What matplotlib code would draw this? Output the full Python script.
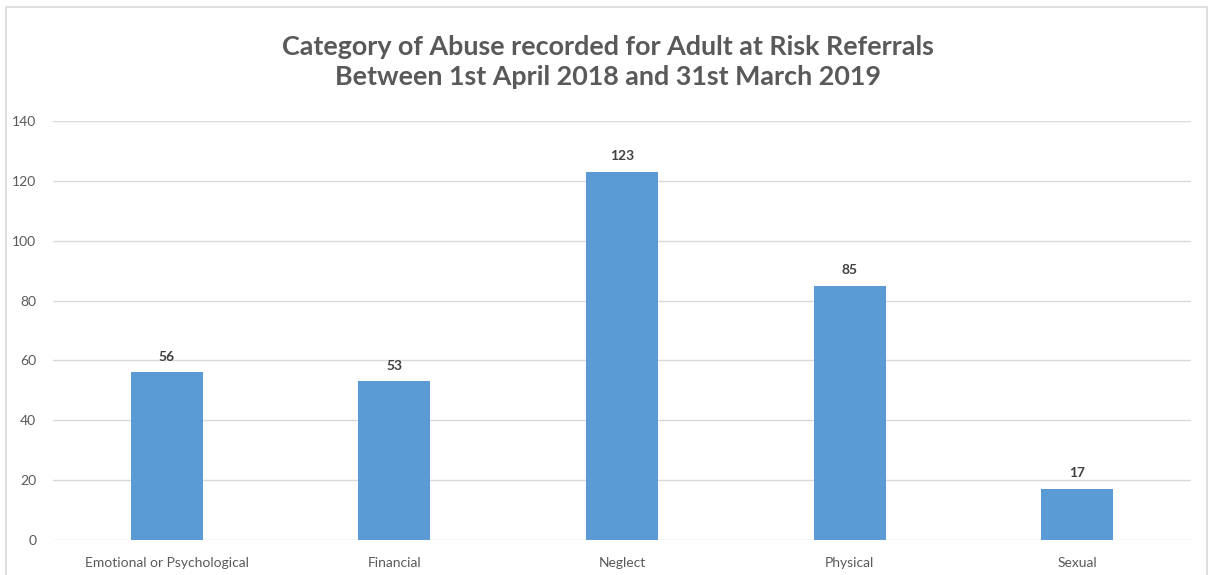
import matplotlib
matplotlib.use("Agg")
import matplotlib.pyplot as plt
from matplotlib.patches import Rectangle

categories = ["Emotional or Psychological", "Financial", "Neglect", "Physical", "Sexual"]
values = [56, 53, 123, 85, 17]
yticks = [0, 20, 40, 60, 80, 100, 120, 140]
title = "Category of Abuse recorded for Adult at Risk Referrals\nBetween 1st April 2018 and 31st March 2019"

plt.rcParams['font.family'] = ['Lato', 'DejaVu Sans']

fig = plt.figure(figsize=(12.12, 5.75), dpi=100)
ax = fig.add_axes([53/1212, 1-540/575, (1191-53)/1212, (540-121)/575])

x = list(range(len(categories)))
ax.bar(x, values, width=0.316, color="#5B9BD5", zorder=3)
for xi, v in zip(x, values):
    ax.annotate(str(v), (xi, v), xytext=(0, 7), textcoords="offset points",
                ha="center", va="bottom", fontsize=10, fontweight="bold", color="#404040")

ax.set_xlim(-0.5, len(categories) - 0.5)
ax.set_ylim(0, 140)
ax.set_yticks(yticks)
ax.set_xticks(x)
ax.set_xticklabels(categories)
ax.tick_params(axis="both", length=0, labelsize=10, labelcolor="#595959")
ax.tick_params(axis="y", pad=12)
ax.tick_params(axis="x", pad=12)
ax.grid(axis="y", color="#D9D9D9", linewidth=1, zorder=0)
for s in ax.spines.values():
    s.set_visible(False)

fig.text(608/1212, 1-62/575, title, ha="center", va="center", fontsize=19.4,
         fontweight="bold", color="#595959", linespacing=1.3)

fig.patches.append(Rectangle((6/1212, -0.05), (1207-6)/1212, 1.05-7/575,
                             transform=fig.transFigure, fill=False,
                             edgecolor="#D9D9D9", linewidth=1.2))

fig.savefig("out.png", dpi=100)
